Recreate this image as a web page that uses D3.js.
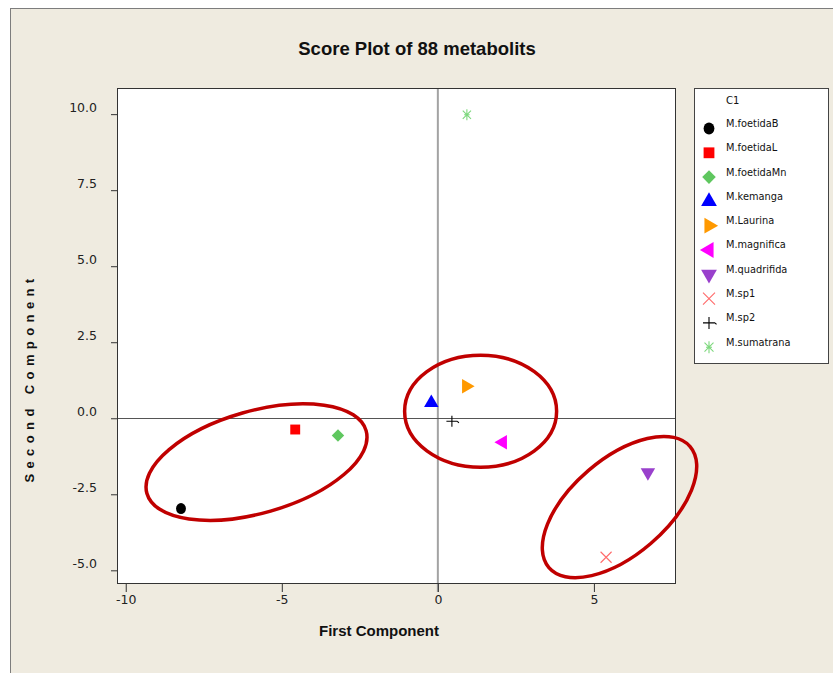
<!DOCTYPE html>
<html>
<head>
<meta charset="utf-8">
<script src="https://cdn.jsdelivr.net/npm/d3@7"></script>
<style>
  body { margin: 0; background: #fff; }
  svg { display: block; }
</style>
</head>
<body>
<div id="chart"></div>
<script>
// Score values
const groups = ["M.foetidaB", "M.foetidaL", "M.foetidaMn", "M.kemanga", "M.Laurina",
                "M.magnifica", "M.quadrifida", "M.sp1", "M.sp2", "M.sumatrana"];
const firstComponent  = [-8.23, -4.57, -3.20, -0.21, 0.91, 2.08, 6.73, 5.39, 0.45, 0.93];
const secondComponent = [-2.97, -0.37, -0.57, 0.51, 1.05, -0.79, -1.78, -4.57, -0.10, 9.98];
const colors = ["#000000", "#ff0000", "#5fc75f", "#0000ff", "#ff9900",
                "#ff00ff", "#9940cc", "#ff6b6b", "#000000", "#7ed87e"];
const shapes = ["circle", "square", "diamond", "triUp", "triRight",
                "triLeft", "triDown", "times", "plus", "asterisk"];

const xTicks = [-10, -5, 0, 5];
const yTicks = [-5, -2.5, 0, 2.5, 5, 7.5, 10];

// Hand drawn cluster ellipses (centre in data units, radii in px, tilt in deg)
const ellipseCx = [-5.81, 1.37, 5.82];
const ellipseCy = [-1.44, 0.23, -2.92];
const ellipseRx = [114, 76, 93];
const ellipseRy = [51, 56, 48];
const ellipseTilt = [-16, 0, -40.6];

const width = 833, height = 673;
const plot = { left: 117, right: 676, top: 88, bottom: 584 };
const tickFont = "'DejaVu Sans', Tahoma, sans-serif";

const svg = d3.select("#chart").append("svg")
    .attr("width", width)
    .attr("height", height)
    .style("font-family", tickFont);

// beige page
svg.append("rect")
    .attr("x", 10.5).attr("y", 8.5)
    .attr("width", 840).attr("height", 680)
    .attr("fill", "#efebe0")
    .attr("stroke", "#7d7d7d");

const x = d3.scaleLinear().domain([-10.28, 7.63]).range([plot.left, plot.right]);
const y = d3.scaleLinear().domain([-5.45, 10.86]).range([plot.bottom, plot.top]);

// plot area
svg.append("rect")
    .attr("x", plot.left).attr("y", plot.top)
    .attr("width", plot.right - plot.left).attr("height", plot.bottom - plot.top)
    .attr("fill", "#fff");

// reference lines
svg.append("line")
    .attr("x1", x(0)).attr("x2", x(0))
    .attr("y1", plot.top).attr("y2", plot.bottom + 8)
    .attr("stroke", "#a3a3a3").attr("stroke-width", 2);
svg.append("line")
    .attr("x1", plot.left).attr("x2", plot.right)
    .attr("y1", Math.round(y(0)) + 0.5).attr("y2", Math.round(y(0)) + 0.5)
    .attr("stroke", "#555").attr("stroke-width", 1);

// frame
svg.append("rect")
    .attr("x", plot.left + 0.5).attr("y", plot.top + 0.5)
    .attr("width", plot.right - plot.left - 1).attr("height", plot.bottom - plot.top - 1)
    .attr("fill", "none")
    .attr("stroke", "#333");

// axes (plain hyphen for negatives, like the original)
const fmtX = d => String(d);
const fmtY = d => d.toFixed(1);

const xAxis = svg.append("g")
    .attr("transform", `translate(0,${plot.bottom})`)
    .call(d3.axisBottom(x).tickValues(xTicks).tickSize(8).tickPadding(3).tickFormat(fmtX));
xAxis.select(".domain").remove();
xAxis.selectAll("line").attr("stroke", "#333");
xAxis.selectAll("text")
    .style("font-family", tickFont).style("font-size", "12.5px").attr("fill", "#222");

const yAxis = svg.append("g")
    .attr("transform", `translate(${plot.left},0)`)
    .call(d3.axisLeft(y).tickValues(yTicks).tickSize(6).tickPadding(14).tickFormat(fmtY));
yAxis.select(".domain").remove();
yAxis.selectAll("line").attr("stroke", "#333");
yAxis.selectAll("text")
    .style("font-family", tickFont).style("font-size", "12.5px")
    .attr("fill", "#222").attr("dy", "-0.22em");

// titles
svg.append("text")
    .attr("x", 417).attr("y", 55)
    .attr("text-anchor", "middle")
    .style("font-family", "'Liberation Sans', Arial, sans-serif")
    .style("font-weight", "bold").style("font-size", "18.5px")
    .attr("fill", "#111")
    .text("Score Plot of 88 metabolits");

svg.append("text")
    .attr("x", 379).attr("y", 636)
    .attr("text-anchor", "middle")
    .style("font-family", "'Liberation Sans', Arial, sans-serif")
    .style("font-weight", "bold").style("font-size", "15px")
    .attr("fill", "#111")
    .text("First Component");

svg.append("text")
    .attr("transform", "translate(34,378) rotate(-90)")
    .attr("text-anchor", "middle")
    .style("font-family", "'Liberation Sans', Arial, sans-serif")
    .style("font-weight", "bold").style("font-size", "13px")
    .style("letter-spacing", "5.4px")
    .attr("fill", "#111")
    .text("Second Component");

// marker drawing
function drawMarker(g, shape, color, s) {
    const tri = d3.symbol().type(d3.symbolTriangle).size(s * s * 0.75)();
    const strokeShape = (d) => g.append("path").attr("d", d)
        .attr("fill", "none").attr("stroke", color).attr("stroke-width", 1.1);
    const h = s / 2;
    switch (shape) {
        case "circle":
            g.append("ellipse").attr("rx", h * 0.9).attr("ry", h).attr("fill", color);
            break;
        case "square":
            g.append("rect").attr("x", -h * 0.9).attr("y", -h * 0.9)
                .attr("width", s * 0.9).attr("height", s * 0.9).attr("fill", color);
            break;
        case "diamond":
            g.append("rect").attr("x", -h * 0.8).attr("y", -h * 0.8)
                .attr("width", s * 0.8).attr("height", s * 0.8)
                .attr("transform", "rotate(45)").attr("fill", color);
            break;
        case "triUp":
            g.append("path").attr("d", tri).attr("fill", color);
            break;
        case "triRight":
            g.append("path").attr("d", tri).attr("transform", "rotate(90)").attr("fill", color);
            break;
        case "triLeft":
            g.append("path").attr("d", tri).attr("transform", "rotate(-90)").attr("fill", color);
            break;
        case "triDown":
            g.append("path").attr("d", tri).attr("transform", "rotate(180)").attr("fill", color);
            break;
        case "times":
            strokeShape(`M${-h},${-h}L${h},${h}M${-h},${h}L${h},${-h}`);
            break;
        case "plus":
            strokeShape(`M${-h},0L${h},0M0,${-h}L0,${h}M${h},0l1.5,1.5`);
            break;
        case "asterisk": {
            const a = h * 0.75;
            strokeShape(`M0,${-h}L0,${h}M${-a},${-a}L${a},${a}M${-a},${a}L${a},${-a}M${-h * 0.5},0L${h * 0.5},0`);
            break;
        }
    }
}

// points
const pts = svg.append("g");
groups.forEach((name, i) => {
    const g = pts.append("g")
        .attr("transform", `translate(${x(firstComponent[i])},${y(secondComponent[i])})`);
    drawMarker(g, shapes[i], colors[i], 11);
});

// cluster ellipses
svg.append("g").selectAll("ellipse")
    .data(ellipseCx)
    .join("ellipse")
    .attr("transform", (d, i) => `translate(${x(d)},${y(ellipseCy[i])}) rotate(${ellipseTilt[i]})`)
    .attr("rx", (d, i) => ellipseRx[i])
    .attr("ry", (d, i) => ellipseRy[i])
    .attr("fill", "none")
    .attr("stroke", "#c00000")
    .attr("stroke-width", 3.5);

// legend
const legend = svg.append("g").attr("transform", "translate(694.5,88.5)");
legend.append("rect")
    .attr("width", 134).attr("height", 275)
    .attr("fill", "#fff").attr("stroke", "#444");
legend.append("text")
    .attr("x", 31.5).attr("y", 11.5).attr("dy", "0.35em")
    .style("font-size", "10px").attr("fill", "#111")
    .text("C1");
groups.forEach((name, i) => {
    const cy = 35 + i * 24.3;
    legend.append("text")
        .attr("x", 31.5).attr("y", cy).attr("dy", "0.35em")
        .style("font-size", "9.8px").attr("fill", "#111")
        .text(name);
    const g = legend.append("g").attr("transform", `translate(14.5,${cy + 5})`);
    drawMarker(g, shapes[i], colors[i], 12);
});
</script>
</body>
</html>
